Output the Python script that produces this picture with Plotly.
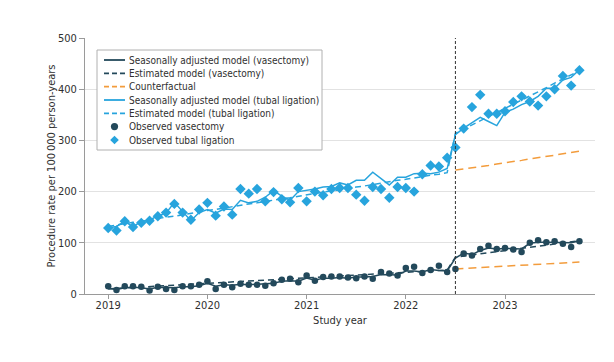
import plotly.graph_objects as go

# ---------------- data (monthly, Jan 2019 .. Oct 2023) ----------------
month_index = list(range(58))
years_x = [2019 + m / 12 for m in month_index]
post_index = list(range(42, 58))
post_x = [2019 + m / 12 for m in post_index]
intervention_x = 2019 + 42 / 12

year_ticks = [2019, 2020, 2021, 2022, 2023]
year_labels = ["2019", "2020", "2021", "2022", "2023"]
y_ticks = [0, 100, 200, 300, 400, 500]

obs_vasectomy = [
    15, 8, 15, 15, 14, 7, 14, 10, 8, 15, 15, 18,
    25, 10, 18, 13, 20, 18, 18, 16, 21, 28, 30, 23,
    36, 26, 33, 34, 34, 32, 31, 34, 30, 43, 40, 36,
    51, 53, 41, 47, 55, 43, 49,
    79, 75, 88, 94, 88, 90, 87, 82, 100, 105, 101, 103, 98, 92, 103,
]
obs_tubal = [
    129, 124, 142, 131, 139, 143, 152, 159, 176, 159, 145, 165,
    178, 153, 171, 155, 205, 196, 205, 181, 199,
    185, 179, 207, 181, 200, 193, 205, 207, 207, 194, 182, 209, 205, 188, 209, 207, 200, 234, 251, 249, 266,
    286,
    323, 365, 389, 352, 352, 357, 375, 386, 376, 368, 386, 400, 426, 407, 437,
]
sa_vasectomy = [
    11, 9, 12, 13, 12, 10, 13, 12, 12, 14, 14, 16,
    21, 15, 18, 17, 19, 18, 19, 20, 21, 25, 26, 25,
    31, 27, 31, 31, 32, 31, 33, 33, 34, 38, 38, 37,
    45, 45, 43, 48, 46, 45, 70,
    80, 77, 85, 90, 88, 89, 88, 88, 99, 101, 101, 101, 100, 100, 104,
]
est_vasectomy = [
    10, 10.9, 11.8, 12.7, 13.6, 14.5, 15.4, 16.3, 17.2, 18.1, 19, 19.9,
    20.8, 21.7, 22.6, 23.5, 24.4, 25.3, 26.2, 27.1, 28, 28.9, 29.8, 30.7,
    31.6, 32.5, 33.4, 34.3, 35.2, 36.1, 37, 37.9, 38.8, 39.7, 40.6, 41.5,
    42.4, 43.3, 44.2, 45.1, 46, 46.9, 72,
    74.1, 76.3, 78.4, 80.5, 82.7, 84.8, 86.9, 89.1, 91.2, 93.3, 95.5, 97.6, 99.7, 101.9, 104,
]
sa_tubal = [
    129, 132, 142, 131, 142, 144, 153, 158, 179, 161, 143, 159,
    165, 158, 166, 165, 183, 178, 181, 189,
    202, 191, 183, 200, 202, 205, 209, 210, 217, 213, 222, 222, 238, 225, 213, 228, 228, 235, 236, 235,
    238, 245,
    311, 324, 334, 345, 337, 329, 355, 361, 370, 376, 386, 402, 402, 418, 423, 438,
]
est_tubal = [
    132, 135, 137, 140, 142, 145, 147, 150, 152, 155, 158, 160,
    163, 165, 168, 170, 173, 176, 178, 181, 183, 186, 188, 191,
    193, 196, 199, 201, 204, 206, 209, 211, 214, 216, 219, 222,
    224, 227, 229, 232, 234, 237,
    314, 322, 330, 338, 347, 355, 363, 371, 379, 387, 395, 403, 412, 420, 428, 436,
]
cf_vasectomy = [48.8, 49.7, 50.6, 51.5, 52.5, 53.4, 54.3, 55.2, 56.1, 57.0, 57.9, 58.8, 59.8, 60.7, 61.6, 62.5]
cf_tubal = [242, 244, 246, 249, 251, 254, 256, 259, 261, 264, 266, 269, 271, 274, 276, 279]

legend_labels = [
    "Seasonally adjusted model (vasectomy)",
    "Estimated model (vasectomy)",
    "Counterfactual",
    "Seasonally adjusted model (tubal ligation)",
    "Estimated model (tubal ligation)",
    "Observed vasectomy",
    "Observed tubal ligation",
]

# ---------------- style ----------------
C_VAS = "#23495b"
C_TUB = "#27a4dd"
C_CF = "#f39c3c"
FONT = "DejaVu Sans Condensed, Liberation Sans, sans-serif"
TXT = "#2f2f2f"

# the page body has an 8px default margin, so the figure is drawn 8px in from the window corner
OFF = 8
WIN_W, WIN_H = 614, 362
W, H = WIN_W - OFF, WIN_H - OFF
# plot area in window pixels
PL, PR, PT, PB = 85, 595, 38, 294


def px(x):
    return (x - PL) / (PR - PL)


def py(y):
    return (PB - y) / (PB - PT)


fig = go.Figure()

line_w = 1.5
fig.add_trace(go.Scatter(x=years_x, y=est_vasectomy, mode="lines",
                         line=dict(color=C_VAS, width=line_w, dash="6px,4px"), showlegend=False))
fig.add_trace(go.Scatter(x=years_x, y=sa_vasectomy, mode="lines",
                         line=dict(color=C_VAS, width=line_w), showlegend=False))
fig.add_trace(go.Scatter(x=post_x, y=cf_vasectomy, mode="lines",
                         line=dict(color=C_CF, width=line_w, dash="8px,5px"), showlegend=False))
fig.add_trace(go.Scatter(x=years_x, y=est_tubal, mode="lines",
                         line=dict(color=C_TUB, width=line_w, dash="6px,4px"), showlegend=False))
fig.add_trace(go.Scatter(x=years_x, y=sa_tubal, mode="lines",
                         line=dict(color=C_TUB, width=line_w), showlegend=False))
fig.add_trace(go.Scatter(x=post_x, y=cf_tubal, mode="lines",
                         line=dict(color=C_CF, width=line_w, dash="8px,5px"), showlegend=False))
fig.add_trace(go.Scatter(x=years_x, y=obs_vasectomy, mode="markers",
                         marker=dict(symbol="circle", size=6.5, color=C_VAS), showlegend=False))
fig.add_trace(go.Scatter(x=years_x, y=obs_tubal, mode="markers",
                         marker=dict(symbol="diamond", size=8, color=C_TUB), showlegend=False))

shapes = []
# intervention line
shapes.append(dict(type="line", xref="x", yref="y", x0=intervention_x, x1=intervention_x, y0=0, y1=500,
                   line=dict(color="#333333", width=1, dash="3px,2px"), layer="above"))

# manual legend
LEG_R = 322
shapes.append(dict(type="rect", xref="paper", yref="paper", x0=px(97), x1=px(LEG_R), y0=py(150), y1=py(50),
                   line=dict(color="#b0b0b0", width=1), fillcolor="white", layer="above"))
item_y = [60, 73.3, 86.6, 100, 113.3, 126.6, 140]
styles = [
    ("line", C_VAS, "solid"),
    ("line", C_VAS, "5px,3px"),
    ("line", C_CF, "5px,3px"),
    ("line", C_TUB, "solid"),
    ("line", C_TUB, "5px,3px"),
    ("circle", C_VAS, None),
    ("diamond", C_TUB, None),
]
annotations = []
for yy, (kind, col, dash), lab in zip(item_y, styles, legend_labels):
    if kind == "line":
        shapes.append(dict(type="line", xref="paper", yref="paper", x0=px(104), x1=px(125), y0=py(yy), y1=py(yy),
                           line=dict(color=col, width=1.8, dash=dash), layer="above"))
    elif kind == "circle":
        r = 3.6
        shapes.append(dict(type="circle", xref="paper", yref="paper", x0=px(114.5 - r), x1=px(114.5 + r),
                           y0=py(yy + r), y1=py(yy - r), fillcolor=col, line=dict(width=0), layer="above"))
    else:
        r = 4.3
        path = "M {a},{b} L {c},{d} L {a},{e} L {f},{d} Z".format(
            a=px(114.5), b=py(yy - r), c=px(114.5 + r), d=py(yy), e=py(yy + r), f=px(114.5 - r))
        shapes.append(dict(type="path", xref="paper", yref="paper", path=path, fillcolor=col,
                           line=dict(width=0), layer="above"))
    annotations.append(dict(xref="paper", yref="paper", x=px(127), y=py(yy), xanchor="left", yanchor="middle",
                            text=lab, showarrow=False, font=dict(family=FONT, size=10, color=TXT)))

fig.update_layout(
    width=W, height=H,
    margin=dict(l=PL - OFF, r=WIN_W - PR, t=PT - OFF, b=WIN_H - PB, autoexpand=False),
    paper_bgcolor="white", plot_bgcolor="white",
    font=dict(family=FONT, size=11, color=TXT),
    shapes=shapes, annotations=annotations,
    showlegend=False,
    xaxis=dict(range=[2018.766, 2023.907], tickvals=year_ticks, ticktext=year_labels,
               showgrid=False, zeroline=False, showline=True, linecolor="#9a9a9a", linewidth=1,
               ticks="outside", ticklen=4, tickcolor="#9a9a9a", automargin=False,
               ticklabelstandoff=-3,
               title=dict(text="Study year", standoff=5, font=dict(size=11))),
    yaxis=dict(range=[0, 500], tickvals=y_ticks, showgrid=True, gridcolor="#e2e2e2", gridwidth=1,
               zeroline=False, showline=True, linecolor="#9a9a9a", linewidth=1,
               ticks="outside", ticklen=5, tickcolor="#9a9a9a", automargin=False,
               title=dict(text="Procedure rate per 100\u2009000 person-years", standoff=0, font=dict(size=11))),
)

fig.write_html("out.html")
